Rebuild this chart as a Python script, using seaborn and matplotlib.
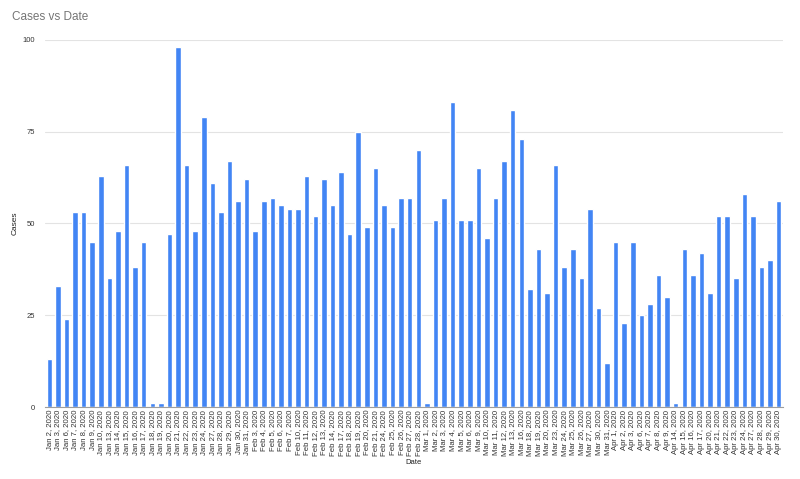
import numpy as np
import pandas as pd
import matplotlib
matplotlib.use("Agg")
import matplotlib.pyplot as plt
import seaborn as sns

# dates (trading days) and daily case counts
jan_days = [2, 3, 6, 7, 8, 9, 10, 13, 14, 15, 16, 17, 18, 19, 20, 21, 22, 23, 24, 27, 28, 29, 30, 31]
feb_days = [3, 4, 5, 6, 7, 10, 11, 12, 13, 14, 17, 18, 19, 20, 21, 24, 25, 26, 27, 28]
mar_days = [1, 2, 3, 4, 5, 6, 9, 10, 11, 12, 13, 16, 18, 19, 20, 23, 24, 25, 26, 27, 30, 31]
apr_days = [1, 2, 3, 6, 7, 8, 9, 14, 15, 16, 17, 20, 21, 22, 23, 24, 27, 28, 29, 30]

jan_cases = [13, 33, 24, 53, 53, 45, 63, 35, 48, 66, 38, 45, 1, 1, 47, 98, 66, 48, 79, 61, 53, 67, 56, 62]
feb_cases = [48, 56, 57, 55, 54, 54, 63, 52, 62, 55, 64, 47, 75, 49, 65, 55, 49, 57, 57, 70]
mar_cases = [1, 51, 57, 83, 51, 51, 65, 46, 57, 67, 81, 73, 32, 43, 31, 66, 38, 43, 35, 54, 27, 12]
apr_cases = [45, 23, 45, 25, 28, 36, 30, 1, 43, 36, 42, 31, 52, 52, 35, 58, 52, 38, 40, 56]

dates = ([f"Jan {d}, 2020" for d in jan_days] + [f"Feb {d}, 2020" for d in feb_days]
         + [f"Mar {d}, 2020" for d in mar_days] + [f"Apr {d}, 2020" for d in apr_days])
cases = jan_cases + feb_cases + mar_cases + apr_cases

df = pd.DataFrame({"Date": dates, "Cases": cases})

sns.set_style("white")
plt.rcParams['font.family'] = ['Liberation Sans', 'DejaVu Sans']

fig = plt.figure(figsize=(8, 4.79), dpi=100)
ax = fig.add_axes([0.05625, 0.1503, 0.9225, 0.7667])

sns.barplot(data=df, x="Date", y="Cases", color="#4285F4", saturation=1, width=0.64, ax=ax)

ax.set_ylim(0, 100)
ax.set_xlim(-0.5, len(dates) - 0.5)
ax.set_yticks([0, 25, 50, 75, 100])
ax.yaxis.grid(True, color="#e3e3e3", linewidth=0.8)
ax.set_axisbelow(True)
for s in ["top", "right", "left"]:
    ax.spines[s].set_visible(False)
ax.spines["bottom"].set_color("#9e9e9e")
ax.spines["bottom"].set_linewidth(0.8)

ax.tick_params(axis="both", length=0, colors="#333333")
ax.tick_params(axis="y", labelsize=5.5, pad=7)
ax.tick_params(axis="x", labelsize=5.6, pad=2)
plt.xticks(rotation=90)

ax.set_xlabel("Date", fontsize=5.5, color="#222222", va="center")
ax.set_ylabel("Cases", fontsize=6, color="#222222", va="center")
ax.xaxis.set_label_coords(0.5, -0.152)
ax.yaxis.set_label_coords(-0.041, 0.5)

fig.text(0.015, 0.965, "Cases vs Date", fontsize=8.5, color="#757575", va="center", ha="left")

fig.savefig("out.png", dpi=100)
